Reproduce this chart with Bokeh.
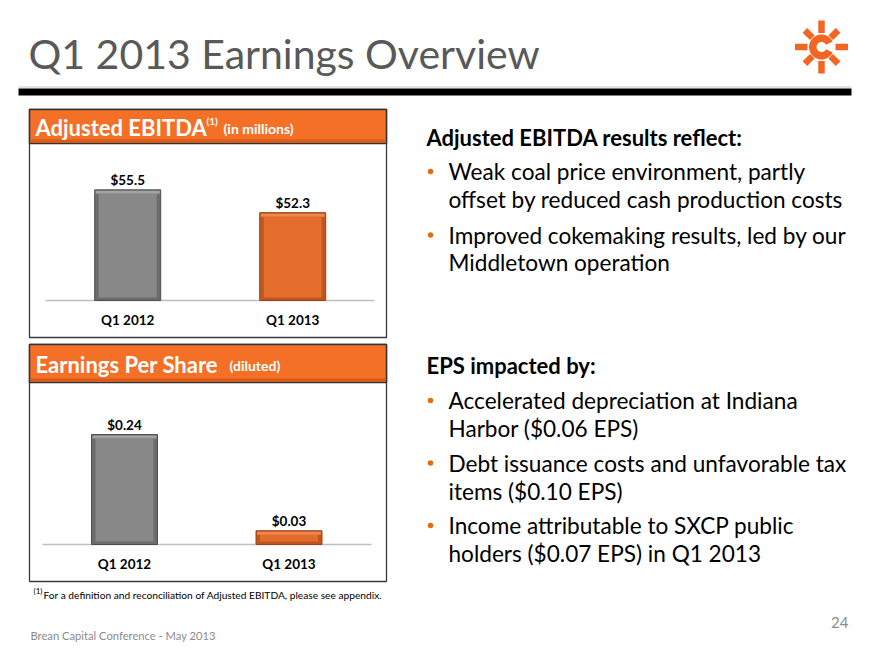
import math
from bokeh.plotting import figure
from bokeh.models import Range1d
from bokeh.core.properties import value
from bokeh.embed import file_html
from bokeh.resources import INLINE

# ---------------- data ----------------
categories = ["Q1 2012", "Q1 2013"]
ebitda_values = [55.5, 52.3]
ebitda_labels = ["$55.5", "$52.3"]
ebitda_axis = [40.0, 60.0]          # value axis min / max
eps_values = [0.24, 0.03]
eps_labels = ["$0.24", "$0.03"]
eps_axis = [0.0, 0.30]

title_text = "Q1 2013 Earnings Overview"
ebitda_header = "Adjusted EBITDA"
ebitda_header_sup = "(1)"
ebitda_header_note = "(in millions)"
eps_header = "Earnings Per Share"
eps_header_note = "(diluted)"

ebitda_heading = "Adjusted EBITDA results reflect:"
ebitda_bullets = [
    ["Weak coal price environment, partly", "offset by reduced cash production costs"],
    ["Improved cokemaking results, led by our", "Middletown operation"],
]
eps_heading = "EPS impacted by:"
eps_bullets = [
    ["Accelerated depreciation at Indiana", "Harbor ($0.06 EPS)"],
    ["Debt issuance costs and unfavorable tax", "items ($0.10 EPS)"],
    ["Income attributable to SXCP public", "holders ($0.07 EPS) in Q1 2013"],
]
footnote_sup = "(1)"
footnote_text = "For a definition and reconciliation of Adjusted EBITDA, please see appendix."
footer_text = "Brean Capital Conference - May 2013"
page_number = "24"

# ---------------- styles ----------------
FONT = value("Lato")
ORANGE = "#F26522"
HEADER_ORANGE = "#F47027"
bar_faces = ["#888888", "#E46C2C"]
bar_edges = ["#6c6c6c", "#C0561E"]
bar_outline = ["#4f4f4f", "#9A4216"]
bar_highlight = ["#a3a3a3", "#F0894F"]

# ---------------- canvas (page pixel coordinates) ----------------
OX, OY, W, H = 0, 0, 864, 644
p = figure(width=W, height=H, output_backend="svg", toolbar_location=None,
           x_range=Range1d(OX, OX + W), y_range=Range1d(OY + H, OY),
           x_axis_type=None, y_axis_type=None,
           min_border=0, min_border_left=0, min_border_right=0,
           min_border_top=0, min_border_bottom=0,
           outline_line_color=None, background_fill_color="white",
           border_fill_color="white")
p.grid.visible = False


def mapped(v_a, px_a, v_b, px_b, px_start, px_end):
    s = (v_b - v_a) / (px_b - px_a)
    return Range1d(start=v_a + (px_start - px_a) * s, end=v_a + (px_end - px_a) * s)


# ---------------- title area ----------------
p.text(x=[28], y=[53], text=[title_text], text_font=FONT, text_font_size="41px",
       text_color="#595959", text_baseline="middle", text_align="left")
p.quad(left=[18], right=[851], top=[88], bottom=[95], fill_color="black", line_color=None)
p.segment(x0=[18], y0=[86.5], x1=[851], y1=[86.5], line_color="#c8c8c8", line_width=1)

# logo
cx, cy = 821, 46.5
p.annular_wedge(x=cx, y=cy, inner_radius=5, outer_radius=12.5,
                start_angle=0.45, end_angle=2 * math.pi - 0.45,
                fill_color=ORANGE, line_color=None)
sx0, sy0, sx1, sy1 = [], [], [], []
for k in range(8):
    a = k * math.pi / 4
    r0, r1 = (14, 26.5) if k % 2 == 0 else (13, 23.5)
    sx0.append(cx + r0 * math.cos(a)); sy0.append(cy + r0 * math.sin(a))
    sx1.append(cx + r1 * math.cos(a)); sy1.append(cy + r1 * math.sin(a))
p.segment(x0=sx0, y0=sy0, x1=sx1, y1=sy1, line_color=ORANGE, line_width=6.5, line_cap="butt")


# ---------------- chart panels ----------------
def panel(box, header_bottom, text_mid, title, note, note_x, sup=None, sup_x=None):
    l, r, t, b = box
    p.quad(left=[l], right=[r], top=[t], bottom=[b], fill_color="white",
           line_color="#3a3a3a", line_width=1.3)
    p.quad(left=[l], right=[r], top=[t], bottom=[header_bottom], fill_color=HEADER_ORANGE,
           line_color="#333333", line_width=1.5)
    p.quad(left=[l + 1], right=[r - 1], top=[header_bottom - 4], bottom=[header_bottom - 1],
           fill_color="#D95B17", line_color=None)
    p.text(x=[l + 6], y=[text_mid], text=[title], text_font=FONT, text_font_size="22px",
           text_font_style="bold", text_color="white", text_baseline="middle")
    if sup:
        p.text(x=[sup_x], y=[text_mid - 7], text=[sup], text_font=FONT, text_font_size="10px",
               text_font_style="bold", text_color="white", text_baseline="middle")
    p.text(x=[note_x], y=[text_mid + 1], text=[note], text_font=FONT, text_font_size="14px",
           text_font_style="bold", text_color="white", text_baseline="middle")


def bar_chart(name, values, labels, axis, x_px, axis_px, base_line):
    xr = mapped(0, x_px[0], 1, x_px[1], OX, OX + W)
    yr = mapped(axis[0], axis_px[0], axis[1], axis_px[1], OY + H, OY)
    p.extra_x_ranges[name + "_x"] = xr
    p.extra_y_ranges[name + "_y"] = yr
    kx = (x_px[1] - x_px[0])
    ky = (axis_px[0] - axis_px[1]) / (axis[1] - axis[0])
    idx = list(range(len(categories)))
    # axis line
    p.segment(x0=[base_line[0]], y0=[axis_px[0]], x1=[base_line[1]], y1=[axis_px[0]],
              line_color="#bfbfbf", line_width=1.5)
    rn = dict(x_range_name=name + "_x", y_range_name=name + "_y")
    width = 66 / kx
    # outer bevel frame
    p.vbar(x=idx, width=width, bottom=axis[0], top=values, fill_color=bar_edges,
           line_color=bar_outline, line_width=1, **rn)
    # lighter top bevel
    p.vbar(x=idx, width=width - 2 / kx, bottom=[v - 4 / ky for v in values],
           top=[v - 1 / ky for v in values], fill_color=bar_highlight, line_color=None, **rn)
    inset_x = 4 / kx
    inset_y = 4 / ky
    inner_top = [max(v - inset_y, axis[0] + 1 / ky) for v in values]
    p.vbar(x=idx, width=width - 2 * inset_x, bottom=axis[0] + 3 / ky, top=inner_top,
           fill_color=bar_faces, line_color=None, **rn)
    p.text(x=idx, y=values, text=labels, text_font=FONT, text_font_size="13.5px",
           text_font_style="bold", text_color="black", text_align="center",
           text_baseline="middle", y_offset=-10, **rn)
    p.text(x=idx, y=[axis[0]] * len(idx), text=categories, text_font=FONT,
           text_font_size="13.5px", text_font_style="bold", text_color="black",
           text_align="center", text_baseline="middle", y_offset=19, **rn)


panel((29, 386, 109, 337), 143, 127, ebitda_header, ebitda_header_note, 223,
      sup=ebitda_header_sup, sup_x=206)
bar_chart("ebitda", ebitda_values, ebitda_labels, ebitda_axis,
          (127.2, 292.2), (300, 157.2), (45, 374))

panel((29, 386, 344, 581), 382, 363.5, eps_header, eps_header_note, 229)
bar_chart("eps", eps_values, eps_labels, eps_axis,
          (124, 288.5), (544, 406.5), (42, 371))

# footnote
p.text(x=[33], y=[590], text=[footnote_sup], text_font=FONT, text_font_size="8px",
       text_color="black", text_baseline="middle")
p.text(x=[43], y=[594], text=[footnote_text], text_font=FONT, text_font_size="10.2px",
       text_color="black", text_baseline="middle")


# ---------------- right-hand text ----------------
def text_block(heading, bullets, head_y, first_y, line_gap, bullet_gap):
    p.text(x=[426], y=[head_y], text=[heading], text_font=FONT, text_font_size="22px",
           text_font_style="bold", text_color="black", text_baseline="middle")
    y = first_y
    lines_x, lines_y, lines_t, dots_y = [], [], [], []
    for b in bullets:
        dots_y.append(y)
        for i, ln in enumerate(b):
            lines_x.append(448); lines_y.append(y); lines_t.append(ln)
            y += line_gap
        y += bullet_gap - line_gap
    p.text(x=lines_x, y=lines_y, text=lines_t, text_font=FONT, text_font_size="22.6px",
           text_color="black", text_baseline="middle")
    p.scatter(x=[430] * len(dots_y), y=dots_y, size=5.5,
              fill_color="#E46C0A", line_color=None)


text_block(ebitda_heading, ebitda_bullets, 137, 171, 27.5, 36)
text_block(eps_heading, eps_bullets, 365, 400, 28, 34.5)

# ---------------- footer ----------------
p.text(x=[848], y=[622], text=[page_number], text_font=FONT, text_font_size="15px",
       text_color="#8c8c8c", text_align="right", text_baseline="middle")
p.text(x=[30], y=[635], text=[footer_text], text_font=FONT, text_font_size="11.2px",
       text_color="#8c8c8c", text_baseline="middle")

open("out.html", "w").write(file_html(p, INLINE))
